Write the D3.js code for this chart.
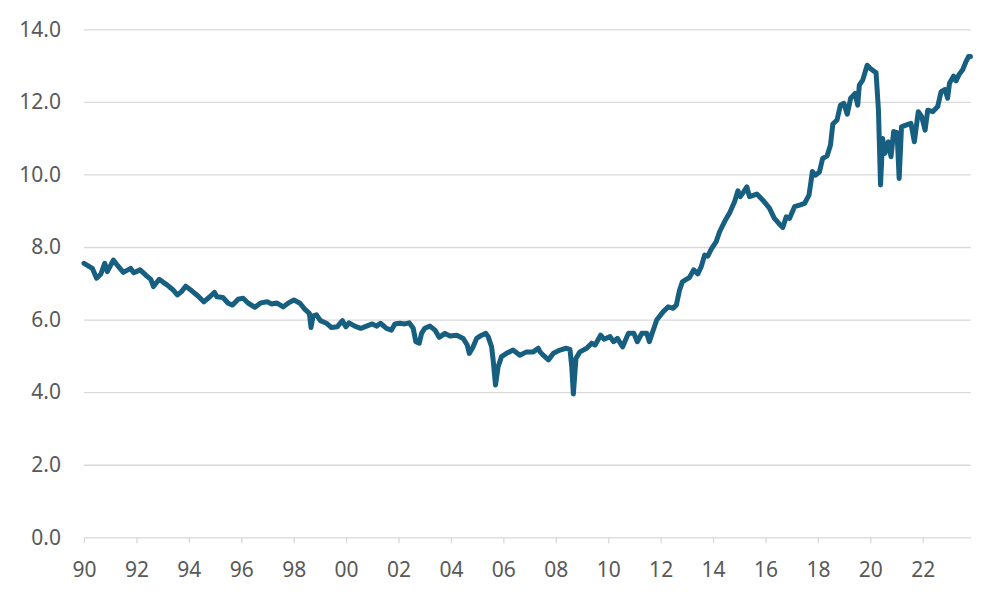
<!DOCTYPE html>
<html>
<head>
<meta charset="utf-8">
<script src="https://cdn.jsdelivr.net/npm/d3@7"></script>
<style>
  html, body { margin: 0; padding: 0; background: #fff; }
  svg { display: block; font-family: "Noto Sans", "Open Sans", sans-serif; }
</style>
</head>
<body>
<svg id="chart" width="1000" height="600"></svg>
<script>
// readings (decimal year, value)
const dates = [
  1990.00, 1990.32, 1990.48, 1990.64, 1990.79, 1990.89, 1991.12, 1991.27, 1991.50, 1991.78,
  1991.90, 1992.14, 1992.35, 1992.55, 1992.65, 1992.87, 1993.00, 1993.18, 1993.38, 1993.56,
  1993.72, 1993.88, 1994.10, 1994.35, 1994.57, 1994.80, 1994.98, 1995.07, 1995.30, 1995.50,
  1995.67, 1995.88, 1996.07, 1996.27, 1996.52, 1996.74, 1996.99, 1997.16, 1997.35, 1997.60,
  1997.80, 1998.01, 1998.24, 1998.43, 1998.60, 1998.66, 1998.74, 1998.87, 1999.02, 1999.25,
  1999.44, 1999.66, 1999.86, 1999.99, 2000.11, 2000.33, 2000.56, 2000.78, 2001.00, 2001.16,
  2001.31, 2001.54, 2001.73, 2001.86, 2002.05, 2002.24, 2002.41, 2002.56, 2002.66, 2002.79,
  2002.88, 2003.00, 2003.20, 2003.39, 2003.55, 2003.77, 2003.96, 2004.22, 2004.47, 2004.62,
  2004.70, 2004.82, 2004.98, 2005.17, 2005.33, 2005.42, 2005.55, 2005.61, 2005.70, 2005.80,
  2005.93, 2006.12, 2006.37, 2006.63, 2006.88, 2007.14, 2007.33, 2007.40, 2007.52, 2007.72,
  2007.91, 2008.16, 2008.39, 2008.54, 2008.61, 2008.67, 2008.77, 2008.92, 2009.18, 2009.37,
  2009.50, 2009.71, 2009.84, 2010.07, 2010.20, 2010.35, 2010.55, 2010.77, 2010.98, 2011.11,
  2011.28, 2011.47, 2011.57, 2011.70, 2011.85, 2012.10, 2012.29, 2012.48, 2012.60, 2012.72,
  2012.83, 2012.98, 2013.10, 2013.26, 2013.42, 2013.55, 2013.68, 2013.80, 2013.93, 2014.12,
  2014.25, 2014.44, 2014.63, 2014.82, 2014.95, 2015.04, 2015.17, 2015.29, 2015.39, 2015.67,
  2015.90, 2016.15, 2016.34, 2016.51, 2016.66, 2016.79, 2016.92, 2017.11, 2017.33, 2017.49,
  2017.66, 2017.72, 2017.79, 2017.90, 2018.06, 2018.18, 2018.35, 2018.48, 2018.57, 2018.73,
  2018.86, 2018.99, 2019.12, 2019.25, 2019.42, 2019.52, 2019.58, 2019.71, 2019.88, 2020.00,
  2020.22, 2020.31, 2020.39, 2020.47, 2020.56, 2020.69, 2020.79, 2020.89, 2021.02, 2021.10,
  2021.19, 2021.36, 2021.55, 2021.68, 2021.83, 2021.96, 2022.09, 2022.19, 2022.38, 2022.57,
  2022.70, 2022.85, 2022.95, 2023.02, 2023.18, 2023.27, 2023.40, 2023.52, 2023.65, 2023.75,
  2023.82
];
const values = [
  7.55, 7.41, 7.14, 7.25, 7.55, 7.32, 7.64, 7.50, 7.30, 7.41,
  7.29, 7.37, 7.23, 7.11, 6.91, 7.11, 7.04, 6.95, 6.83, 6.68,
  6.77, 6.92, 6.80, 6.65, 6.49, 6.63, 6.75, 6.63, 6.61, 6.45,
  6.40, 6.56, 6.59, 6.45, 6.34, 6.46, 6.49, 6.43, 6.46, 6.35,
  6.46, 6.54, 6.45, 6.28, 6.17, 5.78, 6.10, 6.13, 5.97, 5.90,
  5.78, 5.80, 5.97, 5.80, 5.91, 5.82, 5.76, 5.82, 5.88, 5.82,
  5.90, 5.76, 5.71, 5.88, 5.90, 5.88, 5.91, 5.76, 5.39, 5.35,
  5.62, 5.76, 5.82, 5.71, 5.51, 5.62, 5.55, 5.57, 5.48, 5.30,
  5.07, 5.21, 5.48, 5.57, 5.62, 5.53, 5.25, 4.89, 4.20, 4.70,
  4.98, 5.07, 5.16, 5.02, 5.11, 5.11, 5.21, 5.11, 5.02, 4.89,
  5.07, 5.16, 5.21, 5.18, 4.70, 3.95, 4.93, 5.11, 5.21, 5.35,
  5.30, 5.57, 5.46, 5.53, 5.39, 5.48, 5.25, 5.62, 5.62, 5.39,
  5.62, 5.62, 5.39, 5.67, 5.99, 6.22, 6.35, 6.31, 6.40, 6.81,
  7.04, 7.11, 7.16, 7.37, 7.26, 7.46, 7.78, 7.75, 7.94, 8.15,
  8.42, 8.70, 8.94, 9.25, 9.55, 9.39, 9.52, 9.66, 9.39, 9.46,
  9.29, 9.07, 8.79, 8.65, 8.54, 8.83, 8.79, 9.11, 9.16, 9.20,
  9.43, 9.72, 10.08, 9.98, 10.07, 10.44, 10.51, 10.81, 11.39, 11.50,
  11.91, 11.96, 11.66, 12.10, 12.23, 11.91, 12.46, 12.60, 13.01, 12.92,
  12.80, 11.77, 9.71, 10.99, 10.58, 10.90, 10.49, 11.18, 11.15, 9.89,
  11.31, 11.36, 11.41, 10.90, 11.73, 11.59, 11.22, 11.77, 11.73, 11.87,
  12.28, 12.34, 12.10, 12.51, 12.71, 12.58, 12.77, 12.88, 13.11, 13.25,
  13.25
];
const xTicks = d3.range(1990, 2023, 2);
const yTicks = [0, 2, 4, 6, 8, 10, 12, 14];

const series = dates.map((d, i) => ({ t: d, v: values[i] }));

const svg = d3.select("#chart");
const plotLeft = 84, plotRight = 970.7, plotTop = 29.3, plotBottom = 537.3;

const x = d3.scaleLinear().domain([1990, 2023.83]).range([plotLeft, plotRight]);
const y = d3.scaleLinear().domain([0, 14]).range([plotBottom, plotTop]);

const gridColor = "#d9d9d9";
const textColor = "#595959";

// y axis with gridlines
const gy = svg.append("g")
  .attr("transform", `translate(${plotLeft},0)`)
  .call(d3.axisLeft(y).tickValues(yTicks).tickSize(-(plotRight - plotLeft)).tickPadding(23)
    .tickFormat(d3.format(".1f")));
gy.select(".domain").remove();
gy.selectAll(".tick line")
  .attr("stroke", gridColor)
  .attr("stroke-width", 1.3)
  .attr("opacity", d => d === 0 ? 0 : 1);
gy.selectAll(".tick text")
  .attr("fill", textColor)
  .attr("font-size", 21)
  .attr("font-family", "Noto Sans, Open Sans, sans-serif");

// x axis
const gx = svg.append("g")
  .attr("transform", `translate(0,${plotBottom})`)
  .call(d3.axisBottom(x).tickValues(xTicks).tickSize(6).tickSizeOuter(0).tickPadding(18.5)
    .tickFormat(d => String(d % 100).padStart(2, "0")));
gx.select(".domain").attr("stroke", gridColor).attr("stroke-width", 1.3);
gx.selectAll(".tick line").attr("stroke", gridColor).attr("stroke-width", 1.3);
gx.selectAll(".tick text")
  .attr("fill", textColor)
  .attr("font-size", 21)
  .attr("font-family", "Noto Sans, Open Sans, sans-serif");

// the series
svg.append("path")
  .datum(series)
  .attr("fill", "none")
  .attr("stroke", "#175f80")
  .attr("stroke-width", 5)
  .attr("stroke-linejoin", "round")
  .attr("stroke-linecap", "round")
  .attr("d", d3.line().x(d => x(d.t)).y(d => y(d.v)));
</script>
</body>
</html>
